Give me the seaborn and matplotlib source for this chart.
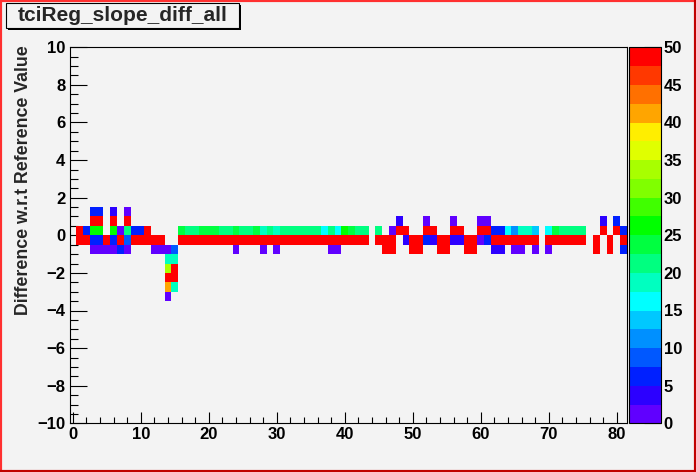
import matplotlib
matplotlib.use("Agg")
import matplotlib.pyplot as plt
import numpy as np
import seaborn as sns
from matplotlib.colors import ListedColormap
from matplotlib.lines import Line2D
from matplotlib.patches import Rectangle
from matplotlib.ticker import MultipleLocator

# cell contents, one pair of lists per y row (row centre in the name)
row_centres = [1.25, 0.75, 0.25, -0.25, -0.75, -1.25, -1.75, -2.25, -2.75, -3.25]

r1_x = [3, 4, 6, 8]
r1_n = [6, 6, 4, 1]

r2_x = [3, 4, 6, 8, 48, 52, 56, 60, 61, 78, 80]
r2_n = [50, 50, 50, 50, 4, 1, 1, 1, 1, 4, 6]

r3_x = [1, 2, 3, 4, 6, 7, 8, 9, 10, 11, 16, 17, 18, 19, 20, 21, 22, 23, 24, 25,
        26, 27, 28, 29, 30, 31, 32, 33, 34, 35, 36, 37, 38, 39, 40, 41, 42, 43,
        45, 47, 48, 49, 52, 53, 56, 57, 60, 61, 62, 63, 64, 65, 66, 67, 68, 70,
        71, 72, 73, 74, 75, 78, 80, 81]
r3_n = [50, 7, 26, 26, 26, 1, 22, 6, 6, 50, 24, 21, 21, 24, 24, 24, 21, 21, 24, 21,
        21, 24, 19, 21, 19, 21, 21, 21, 21, 21, 21, 16, 21, 16, 26, 24, 21, 21,
        21, 1, 50, 50, 50, 50, 50, 50, 50, 50, 6, 6, 16, 11, 19, 19, 14, 16,
        24, 21, 21, 21, 21, 50, 50, 6]

r4_x = [1, 2, 3, 4, 5, 6, 7, 8, 9, 10, 11, 12, 13, 16, 17, 18, 19, 20, 21, 22,
        23, 24, 25, 26, 27, 28, 29, 30, 31, 32, 33, 34, 35, 36, 37, 38, 39, 40,
        41, 42, 43, 45, 46, 47, 49, 50, 51, 52, 53, 54, 55, 56, 57, 58, 59, 60,
        61, 62, 63, 64, 65, 66, 67, 68, 70, 71, 72, 73, 74, 75, 77, 79, 81]
r4_n = [50, 50, 6, 6, 50, 6, 50, 9, 50, 50, 50, 50, 50, 50, 50, 50, 50, 50, 50, 50,
        50, 50, 50, 50, 50, 50, 50, 50, 50, 50, 50, 50, 50, 50, 50, 50, 50, 50,
        50, 50, 50, 50, 50, 50, 4, 50, 50, 6, 4, 50, 50, 4, 4, 50, 50, 2,
        6, 50, 50, 50, 50, 50, 50, 50, 50, 50, 50, 50, 50, 50, 50, 50, 50]

r5_x = [3, 4, 5, 6, 7, 8, 12, 13, 14, 15, 24, 28, 30, 38, 39, 46, 47, 50, 51, 54,
        55, 58, 59, 62, 63, 65, 66, 68, 70, 77, 79, 81]
r5_n = [1, 1, 1, 1, 6, 1, 1, 1, 1, 9, 1, 1, 1, 1, 1, 50, 50, 50, 50, 50,
        50, 50, 50, 4, 4, 1, 1, 1, 1, 50, 50, 6]

r6_x = [14, 15]
r6_n = [19, 19]
r7_x = [14, 15]
r7_n = [33, 50]
r8_x = [14, 15]
r8_n = [50, 50]
r9_x = [14, 15]
r9_n = [41, 19]
r10_x = [14]
r10_n = [1]

x_ticks = list(range(0, 81, 10))
y_ticks = list(range(-10, 11, 2))
z_ticks = list(range(0, 51, 5))

# 20-step palette, bottom (0) to top (50)
palette = ["#6000ff", "#2c00ff", "#0020ff", "#0058ff", "#0090ff", "#00c8ff",
           "#00ffff", "#00ffc0", "#00ff80", "#00ff40", "#00ff00", "#40ff00",
           "#80ff00", "#a8ff00", "#e0ff00", "#ffee00", "#ffa500", "#ff7000",
           "#ff3800", "#ff0000"]

BG = "#f3f3f3"

sns.set_style("ticks")
plt.rcParams["font.family"] = ["Liberation Sans", "DejaVu Sans"]
plt.rcParams["font.weight"] = "bold"

rows_x = [r1_x, r2_x, r3_x, r4_x, r5_x, r6_x, r7_x, r8_x, r9_x, r10_x]
rows_n = [r1_n, r2_n, r3_n, r4_n, r5_n, r6_n, r7_n, r8_n, r9_n, r10_n]
xs, ys, ws = [], [], []
for yc, rx, rn in zip(row_centres, rows_x, rows_n):
    xs += rx
    ys += [yc] * len(rx)
    ws += rn

W, H = 696, 472
fig = plt.figure(figsize=(W / 100, H / 100), dpi=100)
fig.patch.set_facecolor(BG)

x0, x1 = 69.5, 627.0
y0, y1 = 47.3, 423.3
ax = fig.add_axes([x0 / W, 1 - y1 / H, (x1 - x0) / W, (y1 - y0) / H])
cax = fig.add_axes([629 / W, 1 - y1 / H, 32 / W, (y1 - y0) / H])
ax.set_facecolor(BG)

sns.histplot(
    x=np.array(xs, dtype=float), y=np.array(ys), weights=np.array(ws, dtype=float),
    bins=(82, 40), binrange=((-0.5, 81.5), (-10, 10)),
    cmap=ListedColormap(palette), vmin=0, vmax=50,
    cbar=True, cbar_ax=cax, ax=ax,
)

ax.set_xlim(-0.5, 81.5)
ax.set_ylim(-10, 10)
ax.set_xlabel("")
ax.set_ylabel("")
ax.set_xticks(x_ticks)
ax.set_yticks(y_ticks)
ax.xaxis.set_minor_locator(MultipleLocator(2))
ax.yaxis.set_minor_locator(MultipleLocator(0.5))
ax.tick_params(which="both", direction="in", top=False, right=False,
               colors="black", width=0.8, labelsize=12, pad=3)
ax.tick_params(axis="x", which="major", length=8)
ax.tick_params(axis="x", which="minor", length=4)
ax.tick_params(axis="y", which="major", length=12)
ax.tick_params(axis="y", which="minor", length=6)
for lab in ax.get_xticklabels() + ax.get_yticklabels():
    lab.set_fontweight("bold")
for sp in ax.spines.values():
    sp.set_visible(True)
    sp.set_color("black")
    sp.set_linewidth(0.8)

cax.set_yticks(z_ticks)
cax.yaxis.set_ticks_position("right")
cax.tick_params(direction="in", length=12, width=0.8, labelsize=12, pad=2, colors="black")
cax.minorticks_off()
for lab in cax.get_yticklabels():
    lab.set_fontweight("bold")
for sp in cax.spines.values():
    sp.set_color("black")
    sp.set_linewidth(0.8)

fig.text(24 / W, 1 - 45 / H, "Difference w.r.t Reference Value", rotation=90,
         ha="center", va="top", fontsize=12.8, fontweight="bold")

# title box with shadow
bx0, by0, bx1, by1 = 6, 3, 239, 28
fig.add_artist(Rectangle(((bx0 + 2) / W, 1 - (by1 + 2) / H), (bx1 - bx0) / W, (by1 - by0) / H,
                         transform=fig.transFigure, facecolor="black", edgecolor="none"))
fig.add_artist(Rectangle((bx0 / W, 1 - by1 / H), (bx1 - bx0) / W, (by1 - by0) / H,
                         transform=fig.transFigure, facecolor=BG, edgecolor="black", lw=0.8))
fig.text((bx0 + bx1) / 2 / W, 1 - (by0 + by1) / 2 / H, "tciReg_slope_diff_all",
         ha="center", va="center", fontsize=15, fontweight="bold")

# canvas border
for (xa, ya, xb, yb, c) in [(0, 0, 0, 1, "#ff3030"), (0, 1, 1, 1, "#ff3030"),
                            (1, 1, 1, 0, "#c00000"), (0, 0, 1, 0, "#c00000")]:
    fig.add_artist(Line2D([xa, xb], [ya, yb], transform=fig.transFigure, color=c, lw=3))

fig.savefig("out.png", dpi=100, facecolor=BG)
